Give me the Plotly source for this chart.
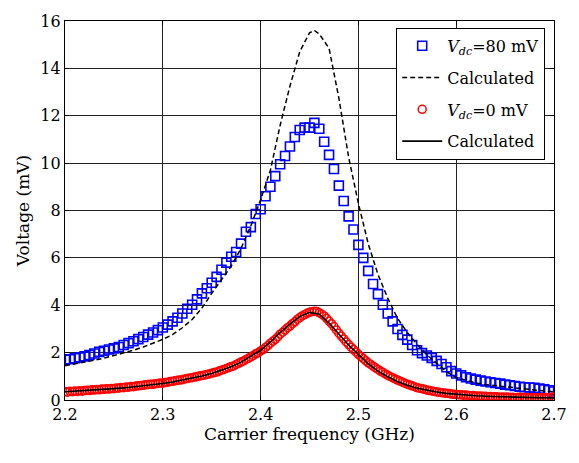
import plotly.graph_objects as go

# Blue squares: V_dc = 80 mV, frequencies 2.200..2.700 step 0.005 GHz
freq_blue = [round(2.2 + 0.005 * i, 4) for i in range(101)]
v_blue = [1.70, 1.72, 1.76, 1.80, 1.84, 1.90, 1.96, 2.03, 2.08, 2.13,
          2.18, 2.24, 2.32, 2.40, 2.48, 2.57, 2.66, 2.76, 2.85, 2.95,
          3.06, 3.18, 3.32, 3.47, 3.65, 3.85, 4.02, 4.25, 4.50, 4.72,
          4.95, 5.20, 5.50, 5.80, 6.05, 6.25, 6.60, 7.10, 7.30, 7.85,
          8.05, 8.60, 9.00, 9.45, 9.95, 10.30, 10.70, 11.10, 11.40, 11.50,
          11.50, 11.70, 11.45, 10.90, 10.35, 9.75, 9.05, 8.40, 7.75, 7.20,
          6.55, 6.00, 5.45, 4.90, 4.47, 4.02, 3.65, 3.32, 3.00, 2.75,
          2.55, 2.32, 2.10, 1.98, 1.88, 1.78, 1.65, 1.52, 1.38, 1.22,
          1.12, 1.04, 0.96, 0.91, 0.86, 0.82, 0.78, 0.75, 0.72, 0.69,
          0.65, 0.62, 0.59, 0.56, 0.54, 0.53, 0.52, 0.48, 0.45, 0.41,
          0.36]

# Dashed calculated curve for V_dc = 80 mV
freq_calc80 = [2.20, 2.21, 2.22, 2.23, 2.24, 2.25, 2.26, 2.27, 2.28, 2.29,
               2.30, 2.31, 2.32, 2.33, 2.34, 2.35, 2.36, 2.37, 2.38, 2.39,
               2.40, 2.41, 2.42, 2.43, 2.44, 2.45, 2.455, 2.46, 2.47, 2.48,
               2.49, 2.50, 2.51, 2.52, 2.53, 2.54, 2.55, 2.56, 2.57, 2.58,
               2.59, 2.60, 2.61, 2.62, 2.63, 2.64, 2.65, 2.66, 2.67, 2.68,
               2.69, 2.70]
v_calc80 = [1.45, 1.52, 1.60, 1.68, 1.77, 1.87, 1.98, 2.10, 2.24, 2.39,
            2.56, 2.76, 3.05, 3.40, 3.88, 4.50, 5.05, 5.65, 6.40, 7.35,
            8.45, 9.70, 11.60, 13.25, 14.70, 15.50, 15.60, 15.45, 14.85, 12.75,
            10.25, 8.30, 6.60, 5.30, 4.30, 3.45, 2.85, 2.35, 1.90, 1.55,
            1.20, 0.95, 0.82, 0.72, 0.65, 0.60, 0.55, 0.50, 0.46, 0.42,
            0.38, 0.34]

# Red circles: V_dc = 0 mV, frequencies 2.200..2.700 step 0.0025 GHz
freq_red = [round(2.2 + 0.0025 * i, 4) for i in range(201)]
v_red = [0.36, 0.33, 0.37, 0.35, 0.38, 0.36, 0.39, 0.37, 0.40, 0.41,
         0.40, 0.43, 0.42, 0.44, 0.43, 0.46, 0.45, 0.47, 0.46, 0.49,
         0.48, 0.51, 0.50, 0.53, 0.52, 0.55, 0.54, 0.57, 0.56, 0.59,
         0.60, 0.61, 0.62, 0.64, 0.65, 0.67, 0.66, 0.69, 0.70, 0.72,
         0.71, 0.74, 0.75, 0.78, 0.79, 0.81, 0.83, 0.84, 0.86, 0.89,
         0.91, 0.93, 0.94, 0.97, 0.99, 1.01, 1.03, 1.05, 1.08, 1.10,
         1.13, 1.16, 1.18, 1.22, 1.26, 1.29, 1.33, 1.37, 1.41, 1.44,
         1.50, 1.55, 1.60, 1.65, 1.71, 1.76, 1.82, 1.88, 1.95, 2.00,
         2.07, 2.13, 2.22, 2.30, 2.40, 2.48, 2.56, 2.66, 2.78, 2.86,
         2.95, 3.05, 3.12, 3.22, 3.30, 3.40, 3.48, 3.55, 3.60, 3.66,
         3.70, 3.73, 3.75, 3.74, 3.68, 3.62, 3.55, 3.45, 3.33, 3.22,
         3.10, 2.96, 2.82, 2.70, 2.58, 2.45, 2.34, 2.23, 2.13, 2.03,
         1.93, 1.84, 1.75, 1.66, 1.57, 1.50, 1.43, 1.36, 1.29, 1.22,
         1.17, 1.10, 1.04, 0.99, 0.94, 0.89, 0.84, 0.80, 0.75, 0.71,
         0.67, 0.63, 0.60, 0.56, 0.52, 0.50, 0.48, 0.45, 0.42, 0.40,
         0.38, 0.36, 0.34, 0.33, 0.31, 0.30, 0.28, 0.27, 0.25, 0.24,
         0.23, 0.22, 0.22, 0.20, 0.21, 0.19, 0.18, 0.19, 0.17, 0.16,
         0.17, 0.15, 0.16, 0.14, 0.15, 0.13, 0.14, 0.13, 0.12, 0.13,
         0.12, 0.13, 0.11, 0.12, 0.10, 0.11, 0.12, 0.10, 0.11, 0.09,
         0.10, 0.11, 0.09, 0.10, 0.08, 0.10, 0.09, 0.11, 0.10, 0.12,
         0.14]

# Solid calculated curve for V_dc = 0 mV
freq_calc0 = [round(2.2 + 0.01 * i, 3) for i in range(51)]
v_calc0 = [0.35, 0.37, 0.40, 0.42, 0.45, 0.48, 0.51, 0.55, 0.59, 0.64,
           0.70, 0.76, 0.84, 0.92, 1.01, 1.12, 1.25, 1.40, 1.60, 1.85,
           2.10, 2.45, 2.85, 3.20, 3.52, 3.70, 3.62, 3.25, 2.78, 2.32,
           1.92, 1.53, 1.22, 0.98, 0.78, 0.62, 0.50, 0.41, 0.34, 0.28,
           0.24, 0.21, 0.18, 0.16, 0.14, 0.13, 0.12, 0.11, 0.10, 0.10,
           0.09]

x_ticks = [2.2, 2.3, 2.4, 2.5, 2.6, 2.7]
y_ticks = [0, 2, 4, 6, 8, 10, 12, 14, 16]

FONT = "DejaVu Serif"

fig = go.Figure()
fig.add_trace(go.Scatter(
    x=freq_blue, y=v_blue, mode="markers", legendgroup="g1",
    name="<i>V</i><sub><i>dc</i></sub>=80 mV",
    marker=dict(symbol="square-open", size=9, color="#0000FF",
                line=dict(width=1.6, color="#0000FF")),
))
fig.add_trace(go.Scatter(
    x=freq_calc80, y=v_calc80, mode="lines", name="Calculated", legendgroup="g2",
    line=dict(color="black", width=1.5, dash="5px,3px"),
))
fig.add_trace(go.Scatter(
    x=freq_red, y=v_red, mode="markers", legendgroup="g3",
    name="<i>V</i><sub><i>dc</i></sub>=0 mV",
    marker=dict(symbol="circle-open", size=8, color="#FF0000",
                line=dict(width=1.5, color="#FF0000")),
))
fig.add_trace(go.Scatter(
    x=freq_calc0, y=v_calc0, mode="lines", name="Calculated", legendgroup="g4",
    line=dict(color="black", width=1.6),
))

fig.update_layout(
    width=579, height=463,
    margin=dict(l=65, r=12, t=14, b=63),
    paper_bgcolor="white", plot_bgcolor="white",
    font=dict(family=FONT, size=16, color="black"),
    showlegend=True,
    legend=dict(
        x=0.982, y=0.982, xanchor="right", yanchor="top",
        bgcolor="white", bordercolor="black", borderwidth=1,
        font=dict(family=FONT, size=16, color="black"),
        tracegroupgap=8, itemwidth=40,
    ),
)
fig.update_xaxes(
    range=[2.2, 2.7], tickvals=x_ticks, ticktext=[str(t) for t in x_ticks],
    showgrid=True, gridcolor="#222222", gridwidth=1,
    showline=True, linecolor="black", linewidth=1.2, mirror="ticks",
    ticks="inside", ticklen=4, tickcolor="black",
    zeroline=False, ticklabeloverflow="allow",
    title=dict(text="Carrier frequency (GHz)", font=dict(family=FONT, size=17), standoff=2),
    tickfont=dict(family=FONT, size=16),
)
fig.update_yaxes(
    range=[0, 16], tickvals=y_ticks, ticktext=[str(t) for t in y_ticks],
    showgrid=True, gridcolor="#222222", gridwidth=1,
    showline=True, linecolor="black", linewidth=1.2, mirror="ticks",
    ticks="inside", ticklen=4, tickcolor="black",
    zeroline=False, ticklabeloverflow="allow",
    title=dict(text="Voltage (mV)", font=dict(family=FONT, size=17), standoff=6),
    tickfont=dict(family=FONT, size=16),
)

fig.write_html("out.html")
